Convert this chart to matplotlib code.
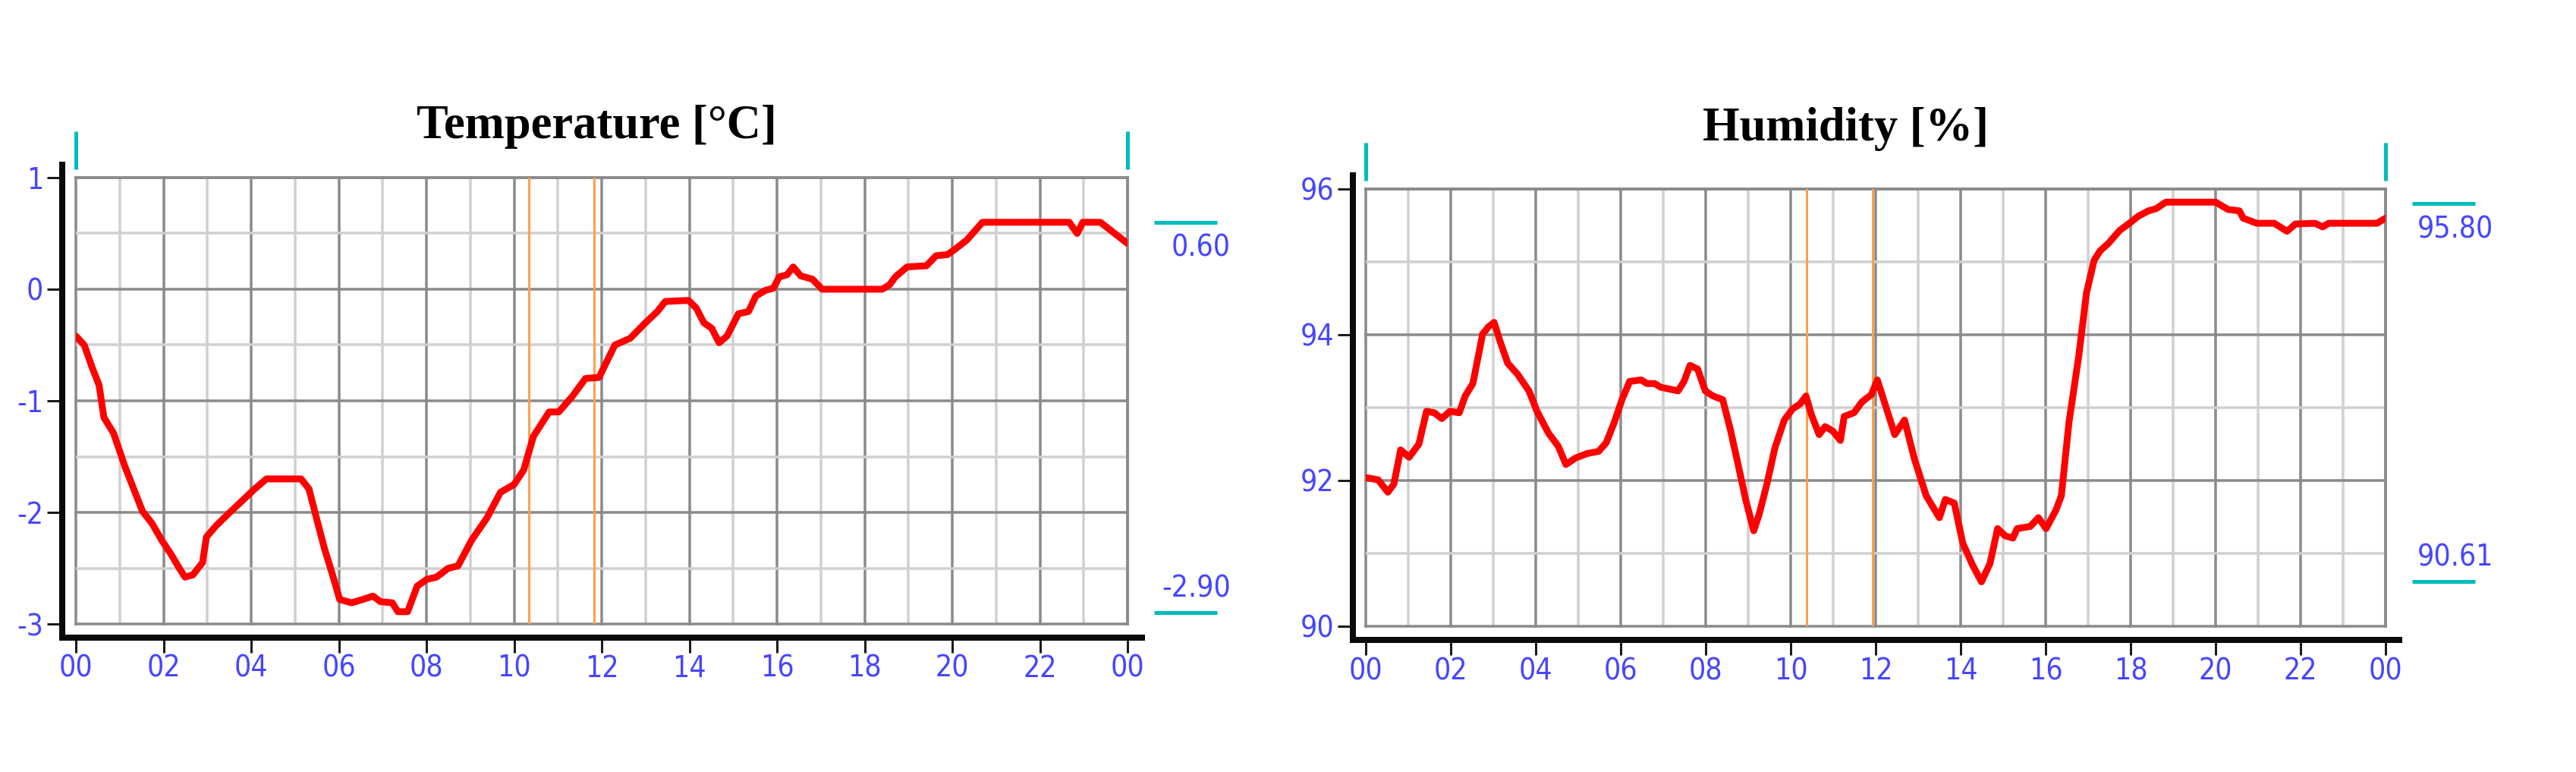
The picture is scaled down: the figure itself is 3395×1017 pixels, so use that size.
import matplotlib
matplotlib.use('Agg')
from matplotlib import pyplot as plt
from matplotlib import font_manager
from matplotlib.lines import Line2D
from matplotlib.ticker import MultipleLocator, FixedLocator
from matplotlib.transforms import blended_transform_factory

plt.rcParams['axes.unicode_minus'] = False

# --- data ---
temp_hours = [0, 0.19, 0.37, 0.53, 0.64, 0.86, 1.12, 1.30, 1.52, 1.74, 1.96, 2.18, 2.36, 2.49, 2.67,
              2.89, 2.98, 3.20, 3.46, 3.73, 4.08, 4.35, 5.14, 5.32, 5.49, 5.67, 5.85, 6.02, 6.29, 6.55,
              6.78, 6.95, 7.22, 7.35, 7.57, 7.79, 8.01, 8.23, 8.50, 8.72, 9.03, 9.38, 9.69, 10.0, 10.22,
              10.44, 10.80, 11.02, 11.33, 11.63, 11.94, 12.30, 12.65, 13.0, 13.27, 13.45, 13.98, 14.16,
              14.33, 14.51, 14.68, 14.86, 15.12, 15.35, 15.52, 15.74, 15.92, 16.05, 16.23, 16.37, 16.54,
              16.81, 17.03, 18.4, 18.57, 18.70, 18.97, 19.41, 19.63, 19.89, 20.07, 20.33, 20.69, 22.67,
              22.85, 22.98, 23.38, 24.0]
temp_values = [-0.42, -0.50, -0.70, -0.86, -1.15, -1.29, -1.59, -1.77, -1.99, -2.10, -2.25, -2.38, -2.50,
               -2.58, -2.56, -2.45, -2.22, -2.12, -2.02, -1.92, -1.79, -1.70, -1.70, -1.79, -2.05, -2.32,
               -2.55, -2.78, -2.81, -2.78, -2.75, -2.80, -2.81, -2.89, -2.89, -2.66, -2.60, -2.58, -2.50,
               -2.48, -2.25, -2.05, -1.82, -1.75, -1.62, -1.32, -1.10, -1.10, -0.96, -0.80, -0.79, -0.50,
               -0.44, -0.30, -0.20, -0.11, -0.10, -0.17, -0.30, -0.35, -0.48, -0.42, -0.22, -0.20, -0.06,
               -0.01, 0.01, 0.11, 0.13, 0.20, 0.12, 0.09, 0.0, 0.0, 0.04, 0.11, 0.20, 0.21, 0.30, 0.31,
               0.36, 0.44, 0.60, 0.60, 0.50, 0.60, 0.60, 0.41]

hum_hours = [0, 0.29, 0.52, 0.66, 0.82, 1.02, 1.25, 1.43, 1.61, 1.79,
             1.98, 2.20, 2.34, 2.52, 2.75, 2.89, 3.02, 3.16, 3.34, 3.57,
             3.84, 4.03, 4.30, 4.53, 4.71, 4.94, 5.21, 5.48, 5.66, 5.85,
             6.03, 6.21, 6.48, 6.62, 6.80, 6.94, 7.35, 7.49, 7.63, 7.81,
             7.99, 8.17, 8.40, 8.58, 8.77, 8.94, 9.13, 9.26, 9.44, 9.63,
             9.85, 10.04, 10.22, 10.36, 10.49, 10.67, 10.81, 10.99, 11.17, 11.26,
             11.49, 11.68, 11.90, 12.04, 12.22, 12.45, 12.68, 12.91, 13.19, 13.5,
             13.64, 13.85, 14.05, 14.28, 14.49, 14.69, 14.87, 15.05, 15.23, 15.33,
             15.64, 15.83, 16.01, 16.24, 16.37, 16.55, 16.78, 16.96, 17.14, 17.28,
             17.47, 17.74, 17.97, 18.19, 18.42, 18.60, 18.83, 20.0, 20.29, 20.56,
             20.65, 20.97, 21.38, 21.68, 21.88, 22.34, 22.52, 22.66, 23.80, 24.0]
hum_values = [92.04, 92.01, 91.84, 91.95, 92.42, 92.32, 92.50, 92.95, 92.93, 92.85,
              92.95, 92.93, 93.16, 93.33, 94.01, 94.11, 94.17, 93.91, 93.61, 93.46,
              93.23, 92.95, 92.65, 92.47, 92.22, 92.31, 92.37, 92.40, 92.52, 92.80,
              93.11, 93.36, 93.38, 93.33, 93.33, 93.28, 93.23, 93.36, 93.58, 93.53,
              93.23, 93.16, 93.11, 92.70, 92.20, 91.74, 91.31, 91.54, 91.95, 92.45,
              92.83, 92.98, 93.05, 93.16, 92.90, 92.63, 92.74, 92.68, 92.55, 92.88,
              92.93, 93.08, 93.18, 93.38, 93.05, 92.63, 92.83, 92.30, 91.79, 91.49,
              91.74, 91.69, 91.14, 90.84, 90.61, 90.86, 91.34, 91.24, 91.21, 91.34,
              91.37, 91.49, 91.34, 91.59, 91.79, 92.80, 93.71, 94.57, 95.02, 95.15,
              95.25, 95.43, 95.53, 95.63, 95.70, 95.73, 95.82, 95.82, 95.72, 95.70,
              95.60, 95.53, 95.53, 95.42, 95.52, 95.53, 95.48, 95.53, 95.53, 95.60]

hour_ticks = list(range(0, 25, 2))
hour_labels = ['%02d' % (h % 24) for h in hour_ticks]
temp_extremes = [0.60, -2.90]
hum_extremes = [95.80, 90.61]
temp_marks = [10.33, 11.83]
hum_marks = [10.38, 11.92]

W, H, DPI = 3395, 1017, 100
PX = 72.0 / DPI  # points per pixel

# narrow digits like the logger software; use a condensed face if one is installed
num_font, num_stretch, num_size = 'Liberation Sans', 'normal', 28
for f in font_manager.fontManager.ttflist:
    if f.name == 'Liberation Sans Narrow':
        num_font, num_stretch, num_size = 'Liberation Sans Narrow', 'normal', 30
        break
    if f.name == 'DejaVu Sans' and f.stretch == 'condensed' and f.weight in (400, 'normal'):
        num_font, num_stretch, num_size = 'DejaVu Sans', 'condensed', 28
BLUE = '#4646ff'
CYAN = '#00bcbc'

fig = plt.figure(figsize=(W / DPI, H / DPI), dpi=DPI)


def fig_line(xs, ys, **kw):
    """line given in figure pixels (top-left origin)"""
    fig.add_artist(Line2D([x / W for x in xs], [1 - y / H for y in ys],
                          transform=fig.transFigure, **kw))


def style_num(t):
    t.set_family(num_font)
    t.set_stretch(num_stretch)
    t.set_fontsize(num_size)
    t.set_color(BLUE)


def panel(box, spine, hours, values, ylim, ymajor, yminor, extremes, marks, title, title_pos, lab_x):
    left, top, right, bottom = box
    w_px, h_px = right - left, bottom - top
    ax = fig.add_axes([left / W, 1 - bottom / H, w_px / W, h_px / H])
    ax.set_xlim(0, 24)
    ax.set_ylim(*ylim)

    # ticks sit on the thick black axes drawn a bit outside the grid
    ax.spines['left'].set_position(('outward', (left - spine[0]) * PX))
    ax.spines['bottom'].set_position(('outward', (spine[2] - bottom) * PX))
    ax.spines['left'].set_visible(False)
    ax.spines['bottom'].set_visible(False)
    for s in ['top', 'right']:
        ax.spines[s].set_color('#8a8a8a')
        ax.spines[s].set_linewidth(3.5 * PX)

    ax.xaxis.set_major_locator(FixedLocator(hour_ticks))
    ax.xaxis.set_minor_locator(MultipleLocator(1))
    ax.set_xticklabels(hour_labels)
    ax.yaxis.set_major_locator(MultipleLocator(ymajor))
    ax.yaxis.set_minor_locator(MultipleLocator(yminor))
    ax.tick_params(which='major', direction='out', length=20 * PX, width=3 * PX, color='#1a1a1a')
    ax.tick_params(axis='y', pad=5 * PX)
    ax.tick_params(axis='x', pad=2 * PX)
    ax.tick_params(which='minor', length=0)
    for lab in ax.get_xticklabels() + ax.get_yticklabels():
        style_num(lab)

    ax.grid(which='minor', color='#d0d0d0', lw=3.5 * PX)
    ax.grid(which='major', color='#8a8a8a', lw=3.5 * PX)
    for gl in ax.get_xgridlines() + ax.get_ygridlines():
        gl.set_clip_on(False)

    for m in marks:
        ax.axvline(m, color='#ffa04a', lw=3 * PX, zorder=4)
    ax.plot(hours, values, color='#ff0000', lw=9 * PX, solid_joinstyle='round',
            solid_capstyle='round', zorder=6)

    # cyan start / end markers above the grid
    trx = blended_transform_factory(ax.transData, ax.transAxes)
    for h in [0, 24]:
        ax.plot([h, h], [1 + 11 / h_px, 1 + 61 / h_px], color=CYAN, lw=5 * PX,
                transform=trx, clip_on=False, solid_capstyle='butt')

    # max / min readouts on the right
    try_ = blended_transform_factory(ax.transAxes, ax.transData)
    x0, x1 = 1 + 35 / w_px, 1 + 118 / w_px
    for v, off in zip(extremes, [-34, 32]):
        ax.plot([x0, x1], [v, v], color=CYAN, lw=5 * PX, transform=try_, clip_on=False,
                solid_capstyle='butt')
        t = ax.annotate('%.2f' % v, xy=(lab_x, v), xycoords=('axes fraction', 'data'),
                        xytext=(0, off), textcoords='offset pixels', ha='right', va='center',
                        annotation_clip=False)
        style_num(t)

    # black L-shaped axis
    sx, stop, sy, send = spine
    fig_line([sx, sx, send], [stop, sy, sy], color='#0a0a0a', lw=8 * PX,
             solid_joinstyle='miter', solid_capstyle='butt')

    fig.text(title_pos[0] / W, 1 - title_pos[1] / H, title, ha='center', va='baseline',
             family='Liberation Serif', weight='bold', fontsize=45)
    return ax


panel((100, 234, 1486, 822), (82, 213, 840, 1509), temp_hours, temp_values, (-3, 1), 1, 0.5,
      temp_extremes, temp_marks, 'Temperature [°C]', (786, 182), 1.098)
panel((1800, 249, 3144, 825), (1783, 227, 843, 3166), hum_hours, hum_values, (90, 96), 2, 1,
      hum_extremes, hum_marks, 'Humidity [%]', (2432, 185), 1.106)

fig.savefig('out.png', dpi=DPI, facecolor='white')
